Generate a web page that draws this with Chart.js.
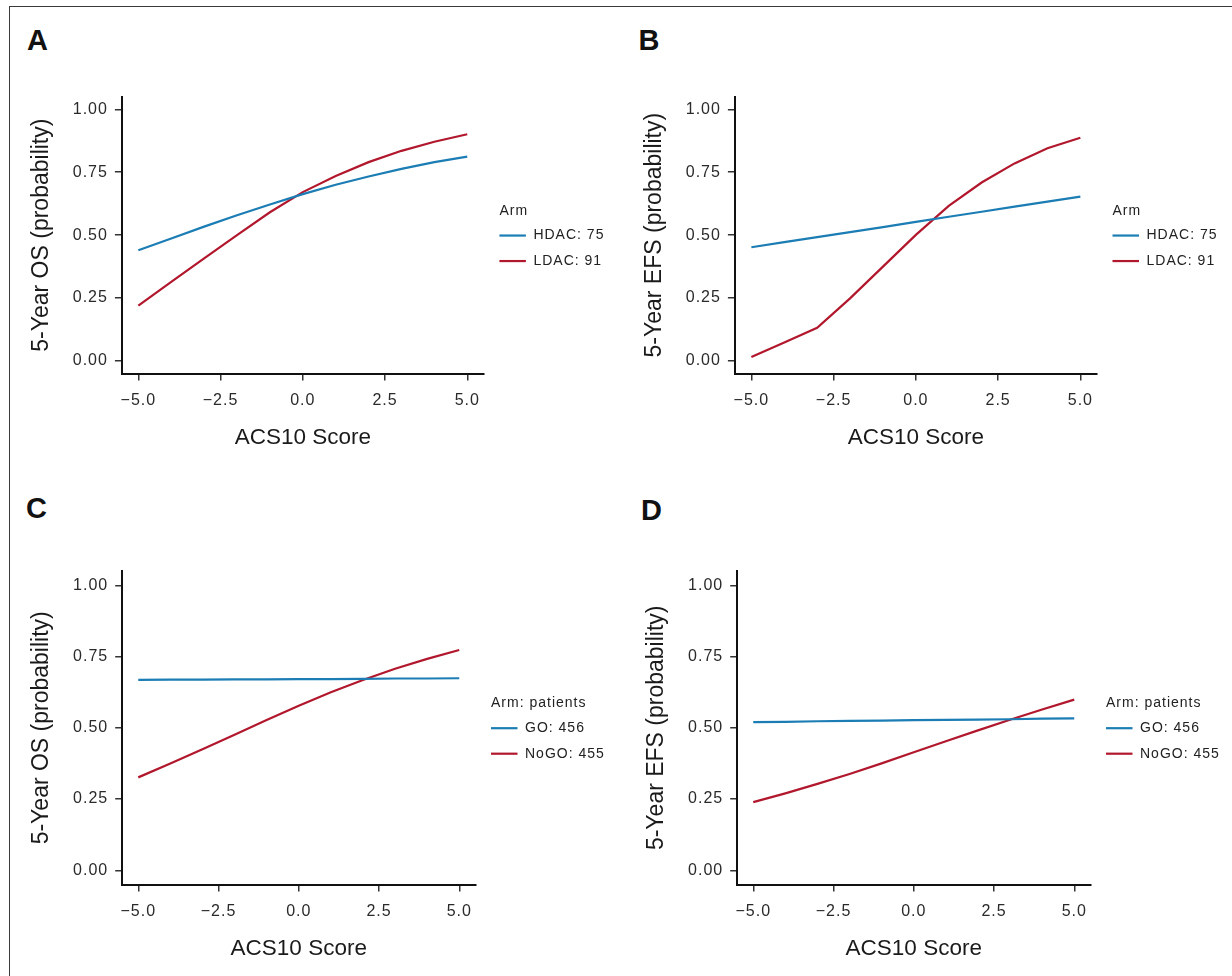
<!DOCTYPE html>
<html>
<head>
<meta charset="utf-8">
<script src="https://cdn.jsdelivr.net/npm/chart.js@4.4.1/dist/chart.umd.min.js"></script>
<style>
html,body{margin:0;padding:0;background:#fff;}
body{width:1232px;height:976px;position:relative;overflow:hidden;font-family:'Liberation Sans',Arial,sans-serif;}
#frame{position:absolute;left:8.5px;top:6px;width:1240px;height:1000px;border-top:1.5px solid #3a3a3a;border-left:1.5px solid #3a3a3a;}
.lab{position:absolute;font:bold 29px 'Liberation Sans',Arial,sans-serif;line-height:29px;color:#111;}
canvas{position:absolute;}
</style>
</head>
<body>
<div id="frame"></div>
<div class="lab" style="left:27px;top:26.2px">A</div>
<div class="lab" style="left:638.5px;top:26.2px">B</div>
<div class="lab" style="left:26px;top:494.2px">C</div>
<div class="lab" style="left:641px;top:496px">D</div>
<canvas id="cA" width="612" height="400" style="left:0px;top:80px;width:612px;height:400px"></canvas>
<canvas id="cB" width="620" height="400" style="left:612px;top:80px;width:620px;height:400px"></canvas>
<canvas id="cC" width="612" height="496" style="left:0px;top:480px;width:612px;height:496px"></canvas>
<canvas id="cD" width="620" height="496" style="left:612px;top:480px;width:620px;height:496px"></canvas>
<script>
// ---- data ----
const scores = [-5, -4, -3, -2, -1, 0, 1, 2, 3, 4, 5];

// Panel A: 5-year OS by arm (HDAC vs LDAC)
const osHDAC  = [0.440, 0.487, 0.534, 0.579, 0.622, 0.663, 0.700, 0.733, 0.763, 0.790, 0.812];
const osLDAC  = [0.220, 0.314, 0.408, 0.500, 0.591, 0.671, 0.735, 0.790, 0.835, 0.871, 0.901];
// Panel B: 5-year EFS by arm (HDAC vs LDAC)
const efsHDAC = [0.452, 0.472, 0.492, 0.512, 0.532, 0.553, 0.573, 0.593, 0.613, 0.633, 0.653];
const efsLDAC = [0.016, 0.074, 0.132, 0.249, 0.375, 0.501, 0.616, 0.709, 0.785, 0.845, 0.887];
// Panel C: 5-year OS by arm (GO vs NoGO)
const osGO    = [0.668, 0.669, 0.669, 0.670, 0.670, 0.671, 0.671, 0.672, 0.673, 0.673, 0.674];
const osNoGO  = [0.326, 0.375, 0.425, 0.476, 0.527, 0.577, 0.625, 0.668, 0.707, 0.742, 0.773];
// Panel D: 5-year EFS by arm (GO vs NoGO)
const efsGO   = [0.520, 0.521, 0.523, 0.524, 0.525, 0.527, 0.528, 0.529, 0.530, 0.532, 0.533];
const efsNoGO = [0.239, 0.270, 0.303, 0.338, 0.375, 0.414, 0.453, 0.491, 0.528, 0.564, 0.599];

const seriesLabelsAB = ['HDAC: 75', 'LDAC: 91'];
const seriesLabelsCD = ['GO: 456', 'NoGO: 455'];
const legendTitleAB = 'Arm';
const legendTitleCD = 'Arm: patients';
const xTickValues = [-5, -2.5, 0, 2.5, 5];
const yTickValues = [0, 0.25, 0.5, 0.75, 1];
const xAxisTitle = 'ACS10 Score';
const yTitleOS = '5-Year OS (probability)';
const yTitleEFS = '5-Year EFS (probability)';

// ---- styling ----
const FONT = "'Liberation Sans', Arial, sans-serif";
const BLUE = '#1b7db4';
const RED = '#b1182d';

const sideLegend = {
  id: 'sideLegend',
  afterDraw(chart, args, opts) {
    const ctx = chart.ctx, ca = chart.chartArea;
    const x0 = ca.right + 15.7;
    const yc = (ca.top + ca.bottom) / 2 + 0.4;
    ctx.save();
    ctx.letterSpacing = '1px';
    ctx.font = '14px ' + FONT;
    ctx.fillStyle = '#222';
    ctx.textBaseline = 'middle';
    ctx.textAlign = 'left';
    ctx.fillText(opts.title, x0, yc - 24.6);
    chart.data.datasets.forEach((ds, i) => {
      const y = yc + i * 25.5;
      ctx.strokeStyle = ds.borderColor;
      ctx.lineWidth = 2.2;
      ctx.beginPath();
      ctx.moveTo(x0, y);
      ctx.lineTo(x0 + 26.5, y);
      ctx.stroke();
      ctx.fillText(ds.label, x0 + 34, y);
    });
    ctx.restore();
  }
};

function spaceLabels(scale, px) {
  if (scale._spacedLabels) return;
  scale._spacedLabels = true;
  const orig = scale.drawLabels;
  scale.drawLabels = function (ca) {
    const ctx = this.ctx;
    ctx.save();
    ctx.letterSpacing = px + 'px';
    orig.call(this, ca);
    ctx.restore();
  };
}

function makePanel(id, box, area, yTitle, xTitleY, yTitleX, legendTitle, series) {
  const [cx, cy, cw, ch] = box;
  const [L, T, R, B] = area;
  const ySize = 23, xSize = 22.5;
  const lhY = ySize * 1.2, lhX = xSize * 1.2;
  const gridOpts = { display: true, drawOnChartArea: false, drawTicks: true, tickLength: 7,
                     color: '#333', tickColor: '#333', tickWidth: 1.5, lineWidth: 1.5 };
  const borderOpts = { display: true, color: '#111', width: 2 };
  return new Chart(document.getElementById(id), {
    type: 'line',
    data: {
      datasets: series.map(s => ({
        label: s.label,
        data: scores.map((x, i) => ({ x: x, y: s.values[i] })),
        borderColor: s.color,
        backgroundColor: s.color,
        borderWidth: 2.2,
        pointRadius: 0,
        tension: 0,
        fill: false
      }))
    },
    options: {
      responsive: false,
      animation: false,
      devicePixelRatio: 1,
      layout: { padding: { left: 0, top: T - cy, right: cx + cw - R, bottom: 0 } },
      plugins: {
        legend: { display: false },
        tooltip: { enabled: false },
        sideLegend: { title: legendTitle }
      },
      scales: {
        x: {
          type: 'linear', min: -5.5, max: 5.5,
          afterBuildTicks: s => { s.ticks = xTickValues.map(v => ({ value: v })); },
          afterFit: s => { s.height = cy + ch - B; spaceLabels(s, 1.0); },
          grid: gridOpts, border: borderOpts,
          ticks: {
            autoSkip: false, maxRotation: 0, padding: 10.8,
            color: '#2a2a2a', font: { size: 16, family: FONT },
            callback: v => v.toFixed(1).replace('-', '\u2212')
          },
          title: {
            display: true, text: xAxisTitle, color: '#1a1a1a',
            font: { size: xSize, family: FONT },
            padding: { top: 0, bottom: (cy + ch) - xTitleY - lhX / 2 }
          }
        },
        y: {
          type: 'linear', min: -0.05, max: 1.05,
          afterBuildTicks: s => { s.ticks = yTickValues.map(v => ({ value: v })); },
          afterFit: s => { s.width = L - cx; spaceLabels(s, 1.0); },
          grid: gridOpts, border: borderOpts,
          ticks: {
            autoSkip: false, padding: 7,
            color: '#2a2a2a', font: { size: 16, family: FONT },
            callback: v => v.toFixed(2)
          },
          title: {
            display: true, text: yTitle, color: '#1a1a1a',
            font: { size: ySize, family: FONT },
            padding: { top: (yTitleX - cx) - lhY / 2, bottom: 0 }
          }
        }
      }
    },
    plugins: [sideLegend]
  });
}

makePanel('cA', [0, 80, 612, 400], [121.9, 96.7, 483.7, 373.6], yTitleOS, 438, 41.5, legendTitleAB,
  [{ label: seriesLabelsAB[0], values: osHDAC, color: BLUE },
   { label: seriesLabelsAB[1], values: osLDAC, color: RED }]);
makePanel('cB', [612, 80, 620, 400], [734.9, 96.7, 1096.8, 373.6], yTitleEFS, 438, 654.5, legendTitleAB,
  [{ label: seriesLabelsAB[0], values: efsHDAC, color: BLUE },
   { label: seriesLabelsAB[1], values: efsLDAC, color: RED }]);
makePanel('cC', [0, 480, 612, 496], [122.2, 571.1, 475.3, 884.5], yTitleOS, 949, 41.5, legendTitleCD,
  [{ label: seriesLabelsCD[0], values: osGO, color: BLUE },
   { label: seriesLabelsCD[1], values: osNoGO, color: RED }]);
makePanel('cD', [612, 480, 620, 496], [737.2, 571.1, 1090.3, 884.5], yTitleEFS, 949, 656.5, legendTitleCD,
  [{ label: seriesLabelsCD[0], values: efsGO, color: BLUE },
   { label: seriesLabelsCD[1], values: efsNoGO, color: RED }]);
</script>
</body>
</html>
